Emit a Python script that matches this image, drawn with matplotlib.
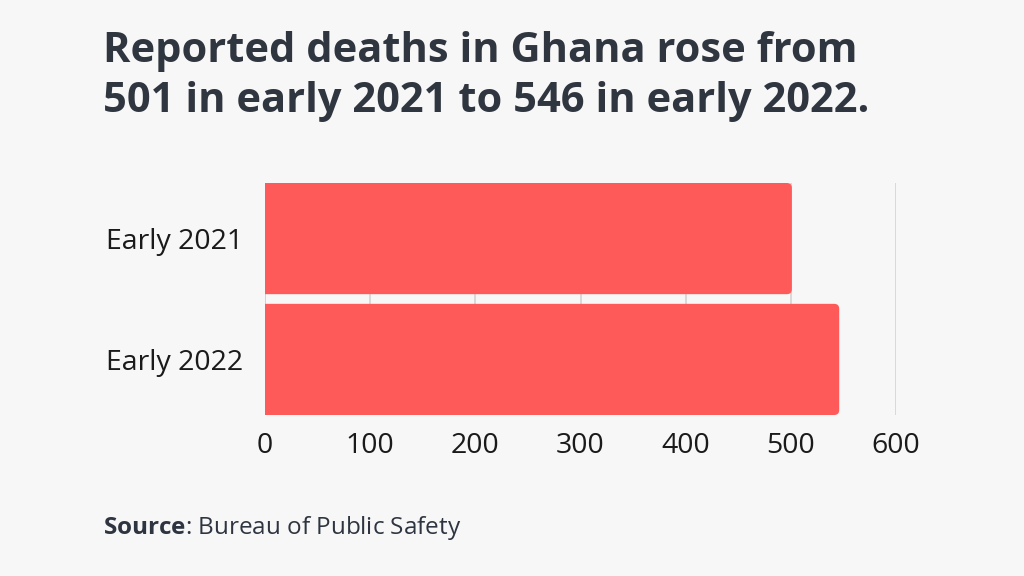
import matplotlib.pyplot as plt
from matplotlib.patches import FancyBboxPatch

categories = ['Early 2021', 'Early 2022']
deaths = [501, 546]
xticks = [0, 100, 200, 300, 400, 500, 600]

title = 'Reported deaths in Ghana rose from\n501 in early 2021 to 546 in early 2022.'

plt.rcParams['font.family'] = ['Open Sans', 'DejaVu Sans']
plt.rcParams['mathtext.fontset'] = 'custom'
plt.rcParams['mathtext.rm'] = 'Open Sans'
plt.rcParams['mathtext.bf'] = 'Open Sans:bold'

fig = plt.figure(figsize=(10.24, 5.76), dpi=100)
fig.patch.set_facecolor('#f7f7f7')
ax = fig.add_axes([265 / 1024, 1 - 415 / 576, 631 / 1024, 232 / 576])
ax.set_facecolor('#f7f7f7')

bars = ax.barh(categories, deaths, height=0.92, color='#ff5a5a', zorder=2)
ax.set_xlim(0, 600)
ax.set_ylim(1.46, -0.46)

# swap the plain rectangles for ones with rounded right corners
xpx = 631 / 600
ypx = 232 / 1.92
r = 5
for b in bars:
    b.set_visible(False)
    p = FancyBboxPatch((b.get_x() - 20, b.get_y()), b.get_width() + 20, b.get_height(),
                       boxstyle='round,pad=0,rounding_size=%f' % (r / xpx),
                       mutation_aspect=(r / ypx) / (r / xpx),
                       facecolor='#ff5a5a', edgecolor='none', zorder=2)
    ax.add_patch(p)

ax.set_xticks(xticks)
ax.grid(axis='x', color='#d6d6d6', linewidth=1.3, zorder=0)
ax.axvline(0, color='#b0b0b0', linewidth=1.3, zorder=1)
for s in ax.spines.values():
    s.set_visible(False)
ax.tick_params(axis='both', length=0, labelsize=20.5, colors='#1a1a1a')
ax.tick_params(axis='x', pad=12)
ax.tick_params(axis='y', pad=16)

fig.text(103 / 1024, 1 - 31 / 576, title, fontsize=30, fontweight='bold',
         color='#30363f', va='top', ha='left', linespacing=1.28)
fig.text(103 / 1024, 1 - 528 / 576, r'$\bf{Source}$: Bureau of Public Safety',
         fontsize=17.5, color='#2e3540', va='center', ha='left')

fig.savefig('out.png', dpi=100, facecolor=fig.get_facecolor())
